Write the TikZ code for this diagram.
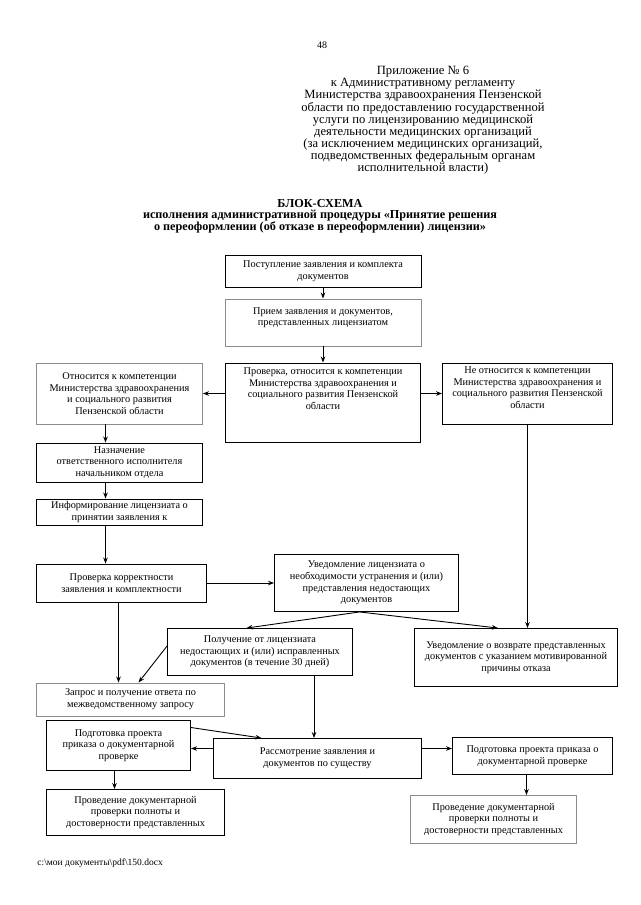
\documentclass[tikz,border=0pt]{standalone}
\usepackage{fontspec}
\setmainfont{Liberation Serif}
\usetikzlibrary{arrows.meta}

\begin{document}
\begin{tikzpicture}[x=1pt, y=-1pt, ->, >={Stealth[length=6pt,width=4.5pt]}, line width=0.9pt, node distance=60pt,
    block/.style={rectangle, draw, align=center, inner sep=2pt, font=\fontsize{10.3}{11.7}\selectfont},
    grey block/.style={block, draw=black!45}]
\useasboundingbox (0,0) rectangle (640,905);

% page header
\node [font=\fontsize{10}{12}\selectfont] (page) at (322,45) {48};
\node [anchor=north, inner sep=0pt, align=center, font=\fontsize{12.6}{12.1}\selectfont] (annex) at (423,66)
    {Приложение № 6\\к Административному регламенту\\Министерства здравоохранения Пензенской\\области по предоставлению государственной\\услуги по лицензированию медицинской\\деятельности медицинских организаций\\(за исключением медицинских организаций,\\подведомственных федеральным органам\\исполнительной власти)};
\node [anchor=north, inner sep=0pt, align=center, font=\bfseries\fontsize{12.2}{11}\selectfont] (title) at (320,199)
    {БЛОК-СХЕМА\\исполнения административной процедуры «Принятие решения\\о переоформлении (об отказе в переоформлении) лицензии»};

% blocks
\node [block, minimum width=196, minimum height=32] (1) at (323,271) {Поступление заявления и комплекта\\документов};
\node [grey block, minimum width=196, minimum height=47] (2) [below of=1, yshift=8.5] {Прием заявления и документов,\\представленных лицензиатом\\ \mbox{}};
\node [block, minimum width=195, minimum height=79] (3) [below of=2, yshift=-20] {Проверка, относится к компетенции\\Министерства здравоохранения и\\социального развития Пензенской\\области\\[16pt]\mbox{}};
\node [grey block, minimum width=166, minimum height=61] (4) [left of=3, xshift=-143.5, yshift=9] {Относится к компетенции\\Министерства здравоохранения\\и социального развития\\Пензенской области};
\node [block, minimum width=170, minimum height=61] (5) [right of=3, xshift=144.5, yshift=9] {Не относится к компетенции\\Министерства здравоохранения и\\социального развития Пензенской\\области\\ \mbox{}};
\node [block, minimum width=166, minimum height=39] (6) [below of=4, yshift=-9] {Назначение\\ответственного исполнителя\\начальником отдела};
\node [block, minimum width=166, minimum height=26] (7) [below of=6, yshift=10.5] {Информирование лицензиата о\\принятии заявления к};
\node [block, minimum width=170, minimum height=38] (8) [below of=7, xshift=2, yshift=-11] {Проверка корректности\\заявления и комплектности};
\node [block, minimum width=184, minimum height=57] (9) [right of=8, xshift=185] {Уведомление лицензиата о\\необходимости устранения и (или)\\представления недостающих\\документов};
\node [block, minimum width=185, minimum height=47] (10) [below of=9, xshift=-106.5, yshift=-9] {Получение от лицензиата\\недостающих и (или) исправленных\\документов (в течение 30 дней)};
\node [block, minimum width=203, minimum height=58] (11) [below of=9, xshift=149.5, yshift=-14.5] {Уведомление о возврате представленных\\документов с указанием мотивированной\\причины отказа};
\node [grey block, minimum width=188, minimum height=33] (12) [below of=8, xshift=9, yshift=-56.5] {Запрос и получение ответа по\\межведомственному запросу};
\node [block, minimum width=208, minimum height=40] (13) [below of=10, xshift=57.5, yshift=-46.5] {Рассмотрение заявления и\\документов по существу};
\node [block, minimum width=144, minimum height=50] (14) [left of=13, xshift=-139, yshift=13] {Подготовка проекта\\приказа о документарной\\проверке};
\node [block, minimum width=178, minimum height=46] (15) [below of=14, xshift=17, yshift=-7] {Проведение документарной\\проверки полноты и\\достоверности представленных};
\node [block, minimum width=160, minimum height=37] (16) [right of=13, xshift=155, yshift=2.5] {Подготовка проекта приказа о\\документарной проверке};
\node [grey block, minimum width=166, minimum height=48] (17) [below of=16, xshift=-39, yshift=-3.5] {Проведение документарной\\проверки полноты и\\достоверности представленных};

% footer
\node [anchor=west, inner sep=0pt, font=\fontsize{9.5}{10}\selectfont] (path) at (37,863) {c:\textbackslash мои документы\textbackslash pdf\textbackslash 150.docx};

% connectors
\path
    (1) edge (2)
    (2) edge (3)
    (4.east -| 3.west) edge (4.east)
    (5.west -| 3.east) edge (5.west)
    ([xshift=-14]4.south) edge ([xshift=-14]6.north)
    ([xshift=-14]6.south) edge ([xshift=-14]7.north)
    ([xshift=-14]7.south) edge ([xshift=-16]8.north)
    (8) edge (9)
    ([xshift=-7]9.south) edge ([xshift=-13.5]10.north)
    ([xshift=-7]9.south) edge ([xshift=-18]11.north)
    (5.south) edge (5.south |- 11.north)
    ([xshift=-3]8.south) edge ([xshift=-3]8.south |- 12.north)
    ([yshift=6]10.west) edge ([xshift=8]12.north)
    ([xshift=54]10.south) edge ([xshift=54]10.south |- 13.north)
    ([yshift=-3]14.east -| 13.west) edge ([yshift=-3]14.east)
    ([yshift=18]14.east) edge ([xshift=-56]13.north)
    ([xshift=-4]14.south) edge ([xshift=-4]14.south |- 15.north)
    ([yshift=10]13.east) edge ([yshift=10]13.east -| 16.west)
    ([xshift=-6]16.south) edge ([xshift=-6]16.south |- 17.north)
    ;
\end{tikzpicture}
\end{document}
